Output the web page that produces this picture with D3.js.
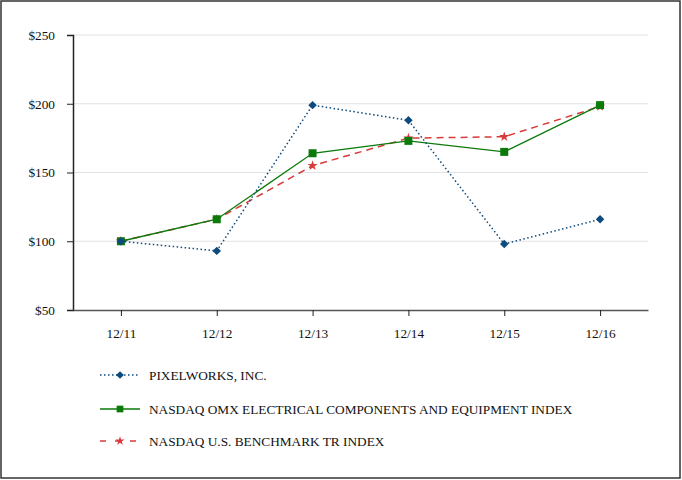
<!DOCTYPE html>
<html><head><meta charset="utf-8">
<script src="https://cdn.jsdelivr.net/npm/d3@7"></script>
<style>body{margin:0;background:#fff}svg{display:block}svg text{font-family:'Liberation Serif','Times New Roman',Times,serif !important;fill:#111}</style>
</head><body><svg id="c" width="682" height="480"></svg>
<script>
const categories = ["12/11","12/12","12/13","12/14","12/15","12/16"];
const pixelworks = [100, 93, 199, 188, 98, 116];
const electrical = [100, 116, 164, 173, 165, 199];
const benchmark = [100, 116, 155, 175, 176, 198];
const yTicks = [50, 100, 150, 200, 250];
const seriesNames = ["PIXELWORKS, INC.", "NASDAQ OMX ELECTRICAL COMPONENTS AND EQUIPMENT INDEX", "NASDAQ U.S. BENCHMARK TR INDEX"];

(function(){
const svg = d3.select("#c");
svg.append("rect").attr("x",1).attr("y",1).attr("width",679).attr("height",477).attr("fill","none").attr("stroke","#333").attr("stroke-width",1.5);

const mL = 73, mR = 648, mT = 35, mB = 310;
const x = d3.scalePoint().domain(categories).range([mL, mR]).padding(0.5);
const y = d3.scaleLinear().domain([50, 250]).range([mB, mT]);

svg.append("g").selectAll("line").data(yTicks.slice(1)).join("line")
  .attr("x1", mL).attr("x2", mR).attr("y1", d=>y(d)).attr("y2", d=>y(d))
  .attr("stroke","#e2e2e2").attr("stroke-width",1);

const yAxis = svg.append("g").attr("transform",`translate(${mL},0)`)
  .call(d3.axisLeft(y).tickValues(yTicks).tickFormat(d=>"$"+d).tickSize(6).tickPadding(12));
yAxis.attr("font-family", null);
yAxis.select(".domain").attr("stroke","#222").attr("stroke-width",1.5);
yAxis.selectAll(".tick line").attr("stroke","#222");
yAxis.selectAll("text").attr("font-size",13.3).attr("fill","#111");

const xAxis = svg.append("g").attr("transform",`translate(0,${mB})`)
  .call(d3.axisBottom(x).tickSize(6).tickSizeOuter(0).tickPadding(13));
xAxis.attr("font-family", null);
xAxis.select(".domain").attr("stroke","#555").attr("stroke-width",1.5);
xAxis.selectAll(".tick line").attr("stroke","#222");
xAxis.selectAll("text").attr("font-size",13.3).attr("fill","#111");

const line = d3.line().x((d,i)=>x(categories[i])).y(d=>y(d));
const series = [
  {vals: pixelworks, color:"#0d4a7e", dash:"1.5,2.5", width:1.5, type:d3.symbolSquare, rot:45, size:36, lsize:30},
  {vals: electrical, color:"#0a7a0a", dash:null, width:1.3, type:d3.symbolSquare, rot:0, size:64, lsize:45},
  {vals: benchmark, color:"#d93a3a", dash:"7,5", width:1.5, type:d3.symbolStar, rot:0, size:32, lsize:26}
];

[2,1,0].forEach(k=>{
  const s = series[k];
  svg.append("path").datum(s.vals).attr("d", line).attr("fill","none")
    .attr("stroke", s.color).attr("stroke-width", s.width).attr("stroke-dasharray", s.dash);
  svg.append("g").selectAll("path").data(s.vals).join("path")
    .attr("transform",(d,i)=>`translate(${x(categories[i])},${y(d)}) rotate(${s.rot})`)
    .attr("d", d3.symbol().type(s.type).size(s.size)()).attr("fill", s.color);
});

const legY = [375, 409, 441];
series.forEach((s,k)=>{
  const g = svg.append("g").attr("transform",`translate(0,${legY[k]})`);
  g.append("line").attr("x1",100).attr("x2",140).attr("y1",0).attr("y2",0)
    .attr("stroke",s.color).attr("stroke-width",s.width)
    .attr("stroke-dasharray", k===2 ? "6,9" : s.dash);
  g.append("path").attr("transform",`translate(120,0) rotate(${s.rot})`).attr("d", d3.symbol().type(s.type).size(s.lsize)())
    .attr("fill",s.color);
  g.append("text").attr("x",149).attr("y",0).attr("dy","0.35em").attr("font-size",13.3).text(seriesNames[k]);
});
})();
</script></body></html>
